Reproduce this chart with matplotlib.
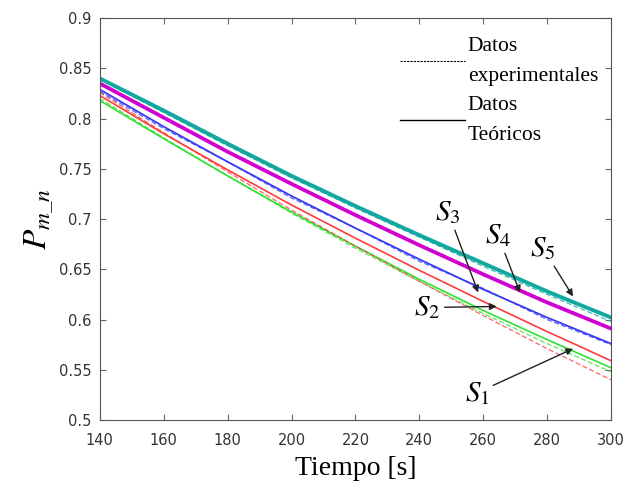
import matplotlib
matplotlib.use("Agg")
import matplotlib.pyplot as plt
import numpy as np
from matplotlib.lines import Line2D

t = [140, 160, 180, 200, 220, 240, 260, 280, 300]

teo_s5 = [0.840, 0.808, 0.775, 0.743, 0.713, 0.684, 0.656, 0.628, 0.602]
teo_s4 = [0.835, 0.801, 0.767, 0.735, 0.704, 0.674, 0.645, 0.617, 0.591]
teo_s3 = [0.829, 0.792, 0.757, 0.723, 0.691, 0.660, 0.630, 0.602, 0.576]
teo_s2 = [0.823, 0.785, 0.749, 0.714, 0.681, 0.649, 0.618, 0.588, 0.559]
teo_s1 = [0.818, 0.780, 0.743, 0.707, 0.673, 0.640, 0.609, 0.580, 0.552]

exp_s5 = [0.839, 0.806, 0.773, 0.741, 0.711, 0.682, 0.653, 0.625, 0.598]
exp_s4 = [0.834, 0.800, 0.767, 0.735, 0.705, 0.675, 0.646, 0.618, 0.592]
exp_s3 = [0.827, 0.790, 0.757, 0.721, 0.691, 0.658, 0.631, 0.600, 0.575]
exp_s2 = [0.826, 0.786, 0.747, 0.709, 0.673, 0.638, 0.604, 0.571, 0.540]
exp_s1 = [0.820, 0.781, 0.743, 0.706, 0.671, 0.638, 0.606, 0.576, 0.548]

labels = ["$S_1$", "$S_2$", "$S_3$", "$S_4$", "$S_5$"]
label_pos = [(258.0, 0.527), (242.5, 0.612), (249.0, 0.707), (264.6, 0.684), (278.7, 0.671)]
arrow_tip = [(288.1, 0.571), (264.2, 0.613), (258.4, 0.627), (271.5, 0.627), (288.1, 0.623)]

colors = ["#33e033", "#ff3b3b", "#3a3af5", "#d000d0", "#10a8a0"]
widths = [1.2, 1.2, 1.3, 2.7, 2.8]

plt.rcParams["mathtext.fontset"] = "stix"

fig = plt.figure(figsize=(6.28, 4.91), dpi=100)
ax = fig.add_axes([0.159, 0.1446, 0.814, 0.8184])

teo = [teo_s1, teo_s2, teo_s3, teo_s4, teo_s5]
exp = [exp_s1, exp_s2, exp_s3, exp_s4, exp_s5]
for c, w, e, th in zip(colors, widths, exp, teo):
    ax.plot(t, e, color=c, lw=0.9, ls=(0, (4, 2)), alpha=0.8)
    ax.plot(t, th, color=c, lw=w)

ax.set_xlim(140, 300)
ax.set_ylim(0.5, 0.9)
ax.set_xticks(range(140, 301, 20))
ax.set_yticks(np.arange(0.5, 0.901, 0.05))
ax.set_yticklabels(["0.5", "0.55", "0.6", "0.65", "0.7", "0.75", "0.8", "0.85", "0.9"])
ax.tick_params(direction="in", length=4, color="#666666", labelcolor="#333333",
               labelsize=10.5, top=True, right=True)
ax.tick_params(axis="x", pad=9)
ax.tick_params(axis="y", pad=6)
for s in ax.spines.values():
    s.set_color("#555555")
    s.set_linewidth(0.8)

ax.set_xlabel("Tiempo [s]", fontsize=20, family="Liberation Serif", labelpad=6)
ax.set_ylabel("$P_{m\\_n}$", fontsize=24, labelpad=2)

for lab, (lx, ly), (ax_, ay) in zip(labels, label_pos, arrow_tip):
    ax.annotate(lab, xy=(ax_, ay), xytext=(lx, ly), fontsize=21,
                ha="center", va="center",
                arrowprops=dict(arrowstyle="-|>", color="#222222", lw=1.0,
                                mutation_scale=10, shrinkA=1, shrinkB=0))

h1 = Line2D([], [], color="k", lw=0.8, ls=(0, (2, 1)))
h2 = Line2D([], [], color="k", lw=1.0)
leg = ax.legend([h1, h2], ["Datos\nexperimentales", "Datos\nTeóricos"],
                loc="upper right", frameon=False, handlelength=3.0, handletextpad=0.15,
                prop={"family": "Liberation Serif", "size": 15.5}, labelspacing=0.45,
                borderaxespad=0.2, bbox_to_anchor=(1.0, 0.985))
for tx in leg.get_texts():
    tx.set_linespacing(1.8)

fig.savefig("out.png", dpi=100)
